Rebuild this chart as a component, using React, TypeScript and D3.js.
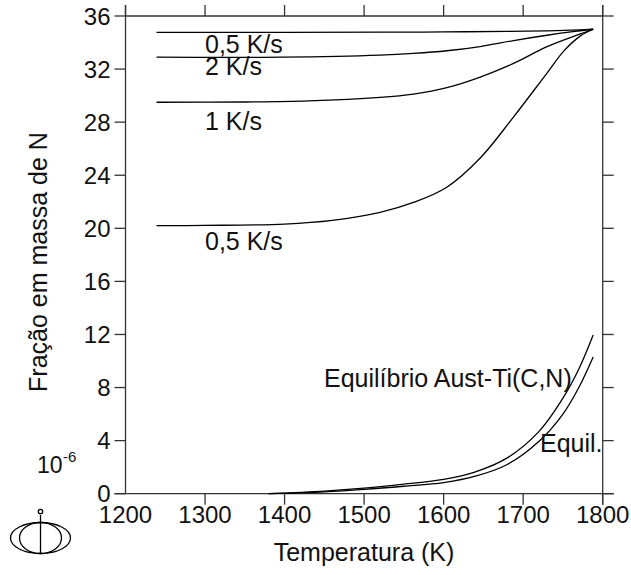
import React from "react";
import * as d3 from "d3";

const W = 631;
const H = 575;

const xTicks = [1200, 1300, 1400, 1500, 1600, 1700, 1800];
const yTicks = [0, 4, 8, 12, 16, 20, 24, 28, 32, 36];

// rate curves
const rateTop05T = [1239, 1400, 1520, 1600, 1680, 1730, 1760, 1788];
const rateTop05V = [34.77, 34.77, 34.78, 34.8, 34.84, 34.88, 34.93, 35.0];

const rate2T = [1239, 1398, 1520, 1562, 1604, 1646, 1688, 1730, 1760, 1788];
const rate2V = [32.9, 32.9, 33.05, 33.18, 33.38, 33.7, 34.15, 34.55, 34.8, 35.0];

const rate1T = [1239, 1350, 1430, 1520, 1562, 1604, 1646, 1688, 1730, 1772, 1788];
const rate1V = [29.5, 29.52, 29.6, 29.87, 30.12, 30.6, 31.4, 32.43, 33.69, 34.65, 35.0];

const rateLow05T = [1239, 1300, 1400, 1460, 1520, 1562, 1604, 1646, 1688, 1730, 1751, 1772, 1788];
const rateLow05V = [20.2, 20.22, 20.32, 20.6, 21.2, 21.95, 23.1, 25.3, 28.4, 31.7, 33.35, 34.5, 35.0];

// equilibrium curves
const eqAustT = [1380, 1450, 1500, 1550, 1600, 1640, 1680, 1720, 1750, 1770, 1788];
const eqAustV = [0.0, 0.2, 0.42, 0.72, 1.08, 1.65, 2.7, 4.7, 7.2, 9.4, 11.96];

const eqT = [1380, 1450, 1500, 1550, 1600, 1640, 1680, 1720, 1750, 1770, 1788];
const eqV = [0.0, 0.14, 0.32, 0.56, 0.84, 1.32, 2.2, 3.95, 6.0, 8.0, 10.3];

const FONT = "'Liberation Sans', Arial, Helvetica, sans-serif";

export default function App() {
  const x = d3.scaleLinear().domain([1200, 1800]).range([125.5, 602.7]);
  const y = d3.scaleLinear().domain([0, 36]).range([493.7, 16]);
  const [x0, x1] = x.range();
  const [yb, yt] = y.range();
  const tl = 11;

  const line = d3
    .line<[number, number]>()
    .x((d) => x(d[0]))
    .y((d) => y(d[1]))
    .curve(d3.curveCatmullRom.alpha(0.5));

  const series = [
    [rateTop05T, rateTop05V],
    [rate2T, rate2V],
    [rate1T, rate1V],
    [rateLow05T, rateLow05V],
    [eqAustT, eqAustV],
    [eqT, eqV],
  ];

  const axisColor = "#333";

  return (
    <svg width={W} height={H} style={{ display: "block", position: "absolute", left: 0, top: 0 }}>
      <rect width={W} height={H} fill="#fff" />
      {/* frame */}
      <g stroke={axisColor} strokeWidth={1.3} fill="none">
        <line x1={x0} x2={x1} y1={yt} y2={yt} />
        <line x1={x0 - tl} x2={x1 + tl} y1={yb} y2={yb} />
        <line x1={x0} x2={x0} y1={yt - tl} y2={yb} />
        <line x1={x1} x2={x1} y1={yt - tl} y2={yb + tl} />
        {yTicks.map((t) => (
          <g key={"y" + t}>
            <line x1={x0 - tl} x2={x0} y1={y(t)} y2={y(t)} />
            <line x1={x1} x2={x1 + tl} y1={y(t)} y2={y(t)} />
          </g>
        ))}
        {xTicks.map((t) => (
          <g key={"x" + t}>
            <line x1={x(t)} x2={x(t)} y1={yt - tl} y2={yt} />
            {t !== 1200 && <line x1={x(t)} x2={x(t)} y1={yb} y2={yb + tl} />}
          </g>
        ))}
      </g>
      {/* tick labels */}
      <g fontFamily={FONT} fontSize={24} fill="#111">
        {yTicks.map((t) => (
          <text key={"yl" + t} x={x0 - 15} y={y(t) + 8.5} textAnchor="end">
            {t}
          </text>
        ))}
        {xTicks.map((t) => (
          <text key={"xl" + t} x={x(t)} y={523} textAnchor="middle">
            {t}
          </text>
        ))}
      </g>
      {/* curves */}
      <g fill="none" stroke="#000" strokeWidth={1.3}>
        {series.map(([ts, vs], i) => (
          <path key={i} d={line(ts.map((t, j) => [t, vs[j]]) as [number, number][]) || ""} />
        ))}
      </g>
      {/* labels */}
      <g fontFamily={FONT} fontSize={25} fill="#111">
        <text x={205} y={53}>0,5 K/s</text>
        <text x={205} y={75}>2 K/s</text>
        <text x={205} y={130}>1 K/s</text>
        <text x={205} y={250}>0,5 K/s</text>
        <text x={324} y={387}>Equilíbrio Aust-Ti(C,N)</text>
        <text x={540} y={452}>Equil.</text>
      </g>
      {/* axis titles */}
      <g fontFamily={FONT} fontSize={25} fill="#111">
        <text x={364} y={561} textAnchor="middle">Temperatura (K)</text>
        <text transform="translate(47,262) rotate(-90)" textAnchor="middle">
          Fração em massa de N
        </text>
        <text x={37} y={473} fontSize={23}>10</text>
        <text x={63} y={462} fontSize={15}>-6</text>
      </g>
      {/* symbol */}
      <g fill="none" stroke="#000" strokeWidth={1.3}>
        <ellipse cx={40.5} cy={538} rx={30} ry={15.5} />
        <ellipse cx={40.5} cy={538} rx={21} ry={15.5} />
        <line x1={40.5} x2={40.5} y1={515} y2={553.5} />
        <circle cx={40.5} cy={511.5} r={2.2} />
      </g>
    </svg>
  );
}
